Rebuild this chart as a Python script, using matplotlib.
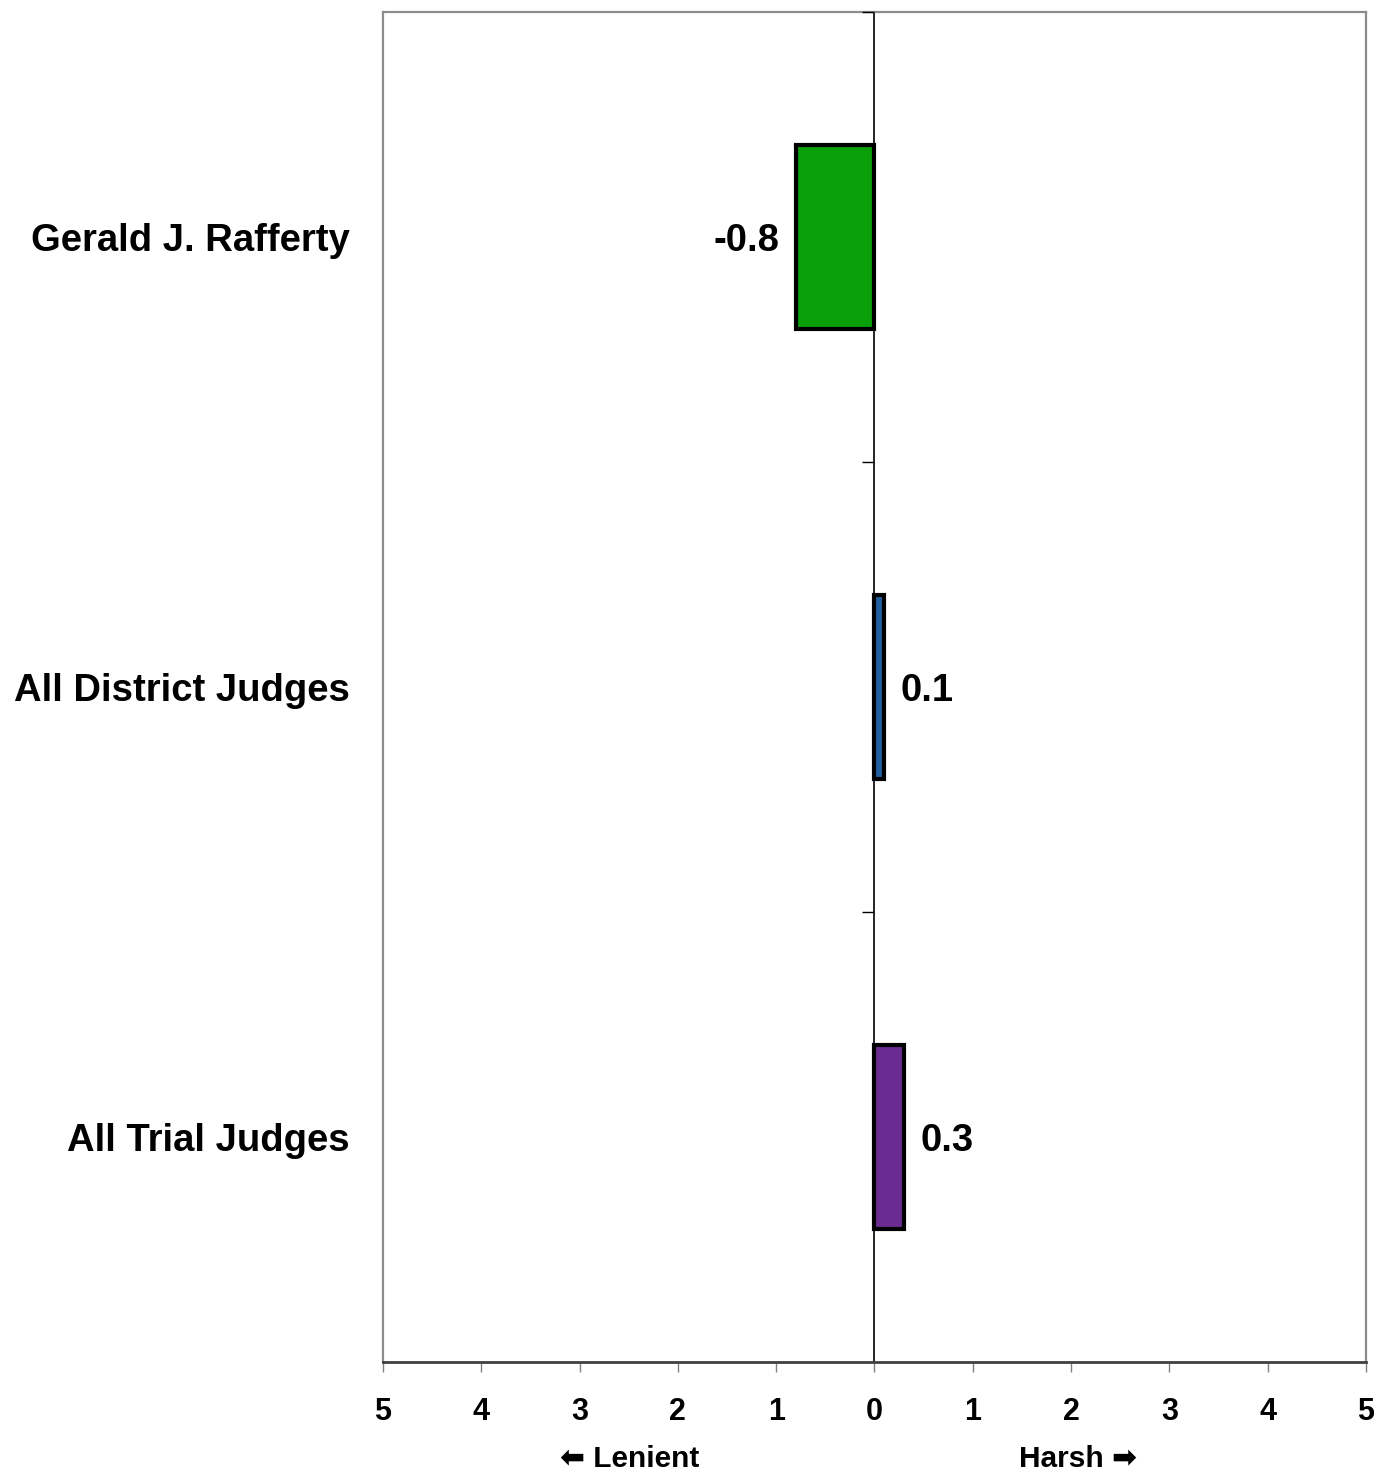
import matplotlib
matplotlib.use("Agg")
import matplotlib.pyplot as plt

categories = ["Gerald J. Rafferty", "All District Judges", "All Trial Judges"]
values = [-0.8, 0.1, 0.3]
value_labels = ["-0.8", "0.1", "0.3"]
colors = ["#0aa00a", "#1f5f9f", "#6a2c91"]
xticks = [-5, -4, -3, -2, -1, 0, 1, 2, 3, 4, 5]
xtick_labels = [str(abs(t)) for t in xticks]

FONT = ["Liberation Sans", "DejaVu Sans"]
plt.rcParams["font.family"] = FONT
plt.rcParams["font.weight"] = "bold"

fig = plt.figure(figsize=(13.74, 14.71), dpi=100)
ax = fig.add_axes([0.2787, 0.0741, 0.7155, 0.9177])

y = list(range(len(categories)))
ax.barh(y, values, height=0.41, color=colors, edgecolor="black", linewidth=3, zorder=3)

ax.set_xlim(-5, 5)
ax.set_ylim(len(categories) - 0.5, -0.5)

ax.axvline(0, color="black", linewidth=1.2, zorder=2)
# category boundary tick marks on the zero line
bounds = [i - 0.5 for i in range(len(categories))]
ax.plot([0] * len(bounds), bounds, linestyle="none", marker=0, markersize=9,
        markeredgewidth=1.0, color="black", zorder=4, clip_on=False)

ax.set_yticks(y)
ax.set_yticklabels(categories, fontsize=27.5, fontweight="bold")
ax.tick_params(axis="y", length=0, pad=24)

ax.set_xticks(xticks)
ax.set_xticklabels(xtick_labels, fontsize=22, fontweight="bold")
ax.tick_params(axis="x", length=7, width=1, color="#808080", pad=18, direction="out")

for s in ["top", "left", "right"]:
    ax.spines[s].set_color("#8c8c8c")
    ax.spines[s].set_linewidth(1.6)
ax.spines["bottom"].set_color("#404040")
ax.spines["bottom"].set_linewidth(2)

for yi, v, lab in zip(y, values, value_labels):
    if v < 0:
        ax.annotate(lab, (v, yi), xytext=(-12, -3), textcoords="offset points",
                    ha="right", va="center", fontsize=27.5, fontweight="bold")
    else:
        ax.annotate(lab, (v, yi), xytext=(12, -3), textcoords="offset points",
                    ha="left", va="center", fontsize=27.5, fontweight="bold")

fig.text(630 / 1374, (1471 - 1459) / 1471, "\u2b05 Lenient", ha="center", va="center",
         fontsize=21.5, fontweight="bold", family=FONT)
fig.text(1078 / 1374, (1471 - 1459) / 1471, "Harsh \u27a1", ha="center", va="center",
         fontsize=21.5, fontweight="bold", family=FONT)

fig.savefig("out.png", dpi=100)
